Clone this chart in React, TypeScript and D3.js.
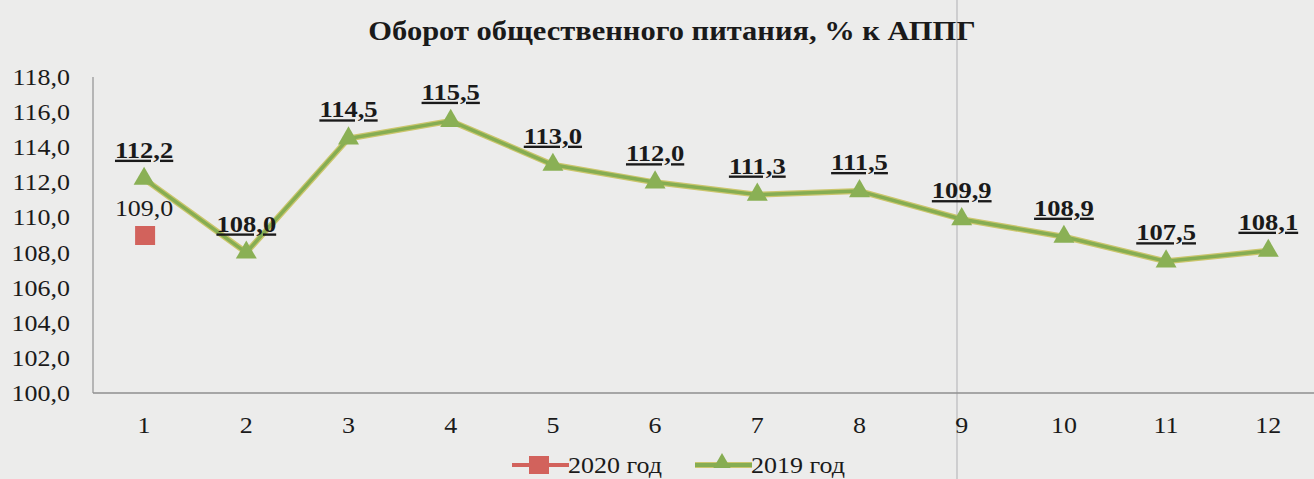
import React, { useEffect, useRef } from 'react';
import * as d3 from 'd3';

const months = ['1', '2', '3', '4', '5', '6', '7', '8', '9', '10', '11', '12'];
const values2019 = [112.2, 108.0, 114.5, 115.5, 113.0, 112.0, 111.3, 111.5, 109.9, 108.9, 107.5, 108.1];
const values2020 = [109.0];
const yTicks = [100, 102, 104, 106, 108, 110, 112, 114, 116, 118];
const seriesNames = ['2020 год', '2019 год'];
const title = 'Оборот общественного питания, % к АППГ';

const fmt = (v: number) => v.toFixed(1).replace('.', ',');

// the scan is slightly stretched horizontally
const SX = 1.13;

const App = () => {
  const svgRef = useRef<SVGSVGElement | null>(null);

  useEffect(() => {
    if (!svgRef.current) return;
    const width = 1314;
    const height = 479;
    const svg = d3.select(svgRef.current);
    svg.selectAll('*').remove();

    svg.append('rect').attr('width', width).attr('height', height).attr('fill', '#ececeb');

    const left = 93;
    const top = 77;
    const bottom = 393;

    const x = d3.scaleBand().domain(months).range([left, left + 102.2 * 12]);
    const y = d3.scaleLinear().domain([100, 118]).range([bottom, top]);
    const cx = (m: string) => (x(m) as number) + x.bandwidth() / 2;
    const at = (px: number, py: number) => `translate(${px},${py}) scale(${SX},1)`;

    // title
    svg.append('text')
      .attr('transform', at(672, 40))
      .attr('text-anchor', 'middle')
      .attr('font-weight', 'bold')
      .attr('font-size', 27)
      .attr('fill', '#1a1a1a')
      .text(title);

    // scan crease
    svg.append('line')
      .attr('x1', 957).attr('x2', 957).attr('y1', 0).attr('y2', height)
      .attr('stroke', '#9a9a9e').attr('stroke-width', 1.2).attr('opacity', 0.6);

    // axes
    svg.append('line').attr('x1', left).attr('x2', left).attr('y1', top).attr('y2', bottom)
      .attr('stroke', '#a3a3a3').attr('stroke-width', 1.5);
    svg.append('line').attr('x1', left).attr('x2', width).attr('y1', bottom).attr('y2', bottom)
      .attr('stroke', '#8f8f8f').attr('stroke-width', 1.5);

    // y tick labels
    svg.append('g').selectAll('text').data(yTicks).join('text')
      .attr('transform', d => at(70, y(d) + 8))
      .attr('text-anchor', 'end')
      .attr('font-size', 23).attr('fill', '#1a1a1a')
      .text(d => fmt(d));

    // x tick labels
    svg.append('g').selectAll('text').data(months).join('text')
      .attr('transform', d => at(cx(d), 433))
      .attr('text-anchor', 'middle')
      .attr('font-size', 23).attr('fill', '#1a1a1a')
      .text(d => d);

    // 2019 line
    const pts = values2019.map((v, i) => [cx(months[i]), y(v)] as [number, number]);
    const line = d3.line();
    svg.append('path').attr('d', line(pts)).attr('fill', 'none')
      .attr('stroke', '#cbc66c').attr('stroke-width', 6).attr('stroke-linejoin', 'round');
    svg.append('path').attr('d', line(pts)).attr('fill', 'none')
      .attr('stroke', '#86ad52').attr('stroke-width', 3.5).attr('stroke-linejoin', 'round');

    const tri = d3.symbol().type(d3.symbolTriangle).size(190);
    svg.append('g').selectAll('path').data(pts).join('path')
      .attr('transform', d => `translate(${d[0]},${d[1]})`)
      .attr('d', tri())
      .attr('fill', '#8ab055');

    // 2019 labels
    svg.append('g').selectAll('text').data(values2019).join('text')
      .attr('transform', (d, i) => at(cx(months[i]), y(d) - 21))
      .attr('text-anchor', 'middle')
      .attr('font-weight', 'bold').attr('font-size', 23.5)
      .attr('fill', '#1a1a1a')
      .attr('text-decoration', 'underline')
      .text(d => fmt(d));

    // 2020 points
    svg.append('g').selectAll('rect').data(values2020).join('rect')
      .attr('x', (d, i) => cx(months[i]) - 9)
      .attr('y', d => y(d) - 9)
      .attr('width', 20).attr('height', 19)
      .attr('fill', '#d2625c');
    svg.append('g').selectAll('text').data(values2020).join('text')
      .attr('transform', (d, i) => at(cx(months[i]), y(d) - 19))
      .attr('text-anchor', 'middle')
      .attr('font-size', 23).attr('fill', '#1a1a1a')
      .text(d => fmt(d));

    // legend
    const lg = svg.append('g');
    const items = [
      { name: seriesNames[0], x: 512, color: '#d2625c', shape: 'square' },
      { name: seriesNames[1], x: 695, color: '#86ad52', shape: 'triangle' },
    ];
    items.forEach(it => {
      const ly = 465;
      if (it.shape === 'triangle') {
        lg.append('line').attr('x1', it.x).attr('x2', it.x + 57).attr('y1', ly).attr('y2', ly)
          .attr('stroke', '#cbc66c').attr('stroke-width', 6);
      }
      lg.append('line').attr('x1', it.x).attr('x2', it.x + 57).attr('y1', ly).attr('y2', ly)
        .attr('stroke', it.color).attr('stroke-width', 4);
      if (it.shape === 'square') {
        lg.append('rect').attr('x', it.x + 17).attr('y', ly - 9).attr('width', 20).attr('height', 18)
          .attr('fill', it.color);
      } else {
        lg.append('path').attr('transform', `translate(${it.x + 27},${ly - 2})`)
          .attr('d', d3.symbol().type(d3.symbolTriangle).size(130)())
          .attr('fill', it.color);
      }
      lg.append('text').attr('transform', at(it.x + 56, ly + 8))
        .attr('font-size', 23).attr('fill', '#1a1a1a')
        .text(it.name);
    });
  }, []);

  return (
    <svg
      ref={svgRef}
      width={1314}
      height={479}
      style={{ position: 'absolute', left: 0, top: 0, fontFamily: "'Liberation Serif', 'DejaVu Serif', serif" }}
    />
  );
};

export default App;
